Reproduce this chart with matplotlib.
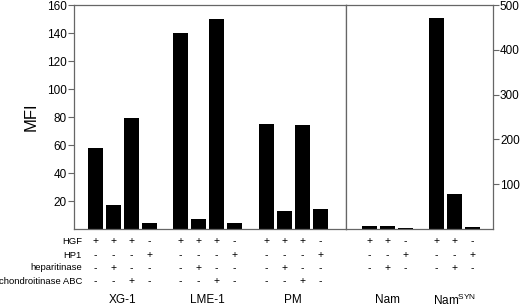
import matplotlib

matplotlib.use("Agg")
import matplotlib.pyplot as plt
import matplotlib.transforms as mtransforms

plt.rcParams["font.family"] = ["Liberation Sans", "DejaVu Sans"]
plt.rcParams["mathtext.fontset"] = "custom"
plt.rcParams["mathtext.rm"] = "Liberation Sans"

# left panel, read on the left MFI axis
left_groups = ["XG-1", "LME-1", "PM"]
left_values = [[58, 17, 79, 4], [140, 7, 150, 4], [75, 13, 74, 14]]
left_rows = ["HGF", "HP1", "heparitinase", "chondroitinase ABC"]
left_signs = [
    ["+", "+", "+", "-"],
    ["-", "-", "-", "+"],
    ["-", "+", "-", "-"],
    ["-", "-", "+", "-"],
]
left_ticks = [20, 40, 60, 80, 100, 120, 140, 160]

# right panel, read on the right axis
right_groups = ["Nam", r"Nam$^{\mathrm{SYN}}$"]
right_values = [[6, 6, 3], [471, 78, 4]]
right_signs = [
    ["+", "+", "-"],
    ["-", "-", "+"],
    ["-", "+", "-"],
]
right_ticks = [100, 200, 300, 400, 500]

spine_color = "#666666"
row_y = [1 - 241 / 308, 1 - 255 / 308, 1 - 268 / 308, 1 - 281 / 308]
group_y = 1 - 300 / 308

fig = plt.figure(figsize=(5.2, 3.08), dpi=100)
fig.patch.set_facecolor("white")
ax1 = fig.add_axes([74 / 520, 1 - 229 / 308, 272 / 520, 224 / 308])
ax2 = fig.add_axes([346 / 520, 1 - 229 / 308, 147 / 520, 224 / 308])


def draw_panel(ax, groups, values, signs, step):
    trans = mtransforms.blended_transform_factory(ax.transData, fig.transFigure)
    for g, (name, vals) in enumerate(zip(groups, values)):
        xs = [g * step + i for i in range(len(vals))]
        ax.bar(xs, vals, width=0.83, color="black")
        for r, row in enumerate(signs):
            for x, s in zip(xs, row):
                ax.text(x, row_y[r], s, transform=trans, ha="center", va="center",
                        fontsize=7.5)
        ax.text(sum(xs) / len(xs), group_y, name, transform=trans, ha="center",
                va="center", fontsize=8.5)


draw_panel(ax1, left_groups, left_values, left_signs, 4.75)
draw_panel(ax2, right_groups, right_values, right_signs, 3.72)

ax1.set_xlim(-1.17, 13.94)
ax1.set_ylim(0, 160)
ax1.set_yticks(left_ticks)
ax1.set_ylabel("MFI", fontsize=12, labelpad=6)
ax2.set_xlim(-1.3, 6.87)
ax2.set_ylim(0, 500)
ax2.set_yticks(right_ticks)
ax2.yaxis.tick_right()

for ax in (ax1, ax2):
    ax.set_xticks([])
    ax.tick_params(axis="y", length=4, width=0.8, color=spine_color, labelsize=8.5, pad=1)
    for sp in ax.spines.values():
        sp.set_color(spine_color)
        sp.set_linewidth(0.9)

# row labels of the treatment table, right-aligned left of the plot
for r, name in enumerate(left_rows):
    fig.text(82 / 520, row_y[r], name, ha="right", va="center", fontsize=6.8)

fig.savefig("out.png", dpi=100, facecolor="white")
